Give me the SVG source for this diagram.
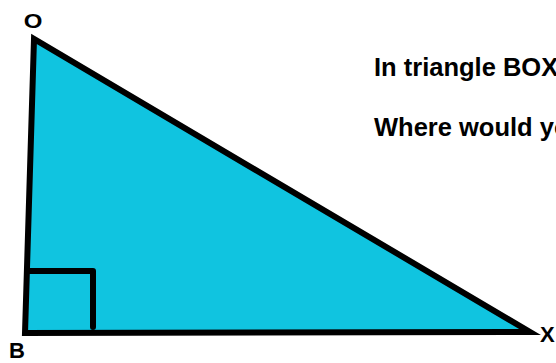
<svg xmlns="http://www.w3.org/2000/svg" width="556" height="363" viewBox="0 0 556 363">
<style>
.lbl{font-family:"Liberation Sans",Arial,sans-serif;font-weight:bold;fill:#000}
.txt{font-size:25.5px}
.edge{fill:none;stroke:#000;stroke-width:6;stroke-linejoin:round;stroke-linecap:round}
</style>
<rect width="556" height="363" fill="#fff"/>
<g id="triangle">
<polygon points="34,39 25,333 530,332" fill="#10C4E0" stroke="#000" stroke-width="6" stroke-linejoin="miter"/>
</g>
<g id="connectors">
<polyline class="edge" points="28,271 93,271 93,327"/>
</g>
<g id="labels">
<text class="lbl" x="33" y="28" text-anchor="middle" font-size="20" transform="translate(33 0) scale(1.2 1) translate(-33 0)">O</text>
<text class="lbl" x="17" y="358" text-anchor="middle" font-size="22">B</text>
<text class="lbl" x="540" y="342" font-size="22">X</text>
<text class="lbl txt" x="374" y="76">In triangle BOX</text>
<text class="lbl txt" x="374" y="136">Where would you</text>
</g>
</svg>
